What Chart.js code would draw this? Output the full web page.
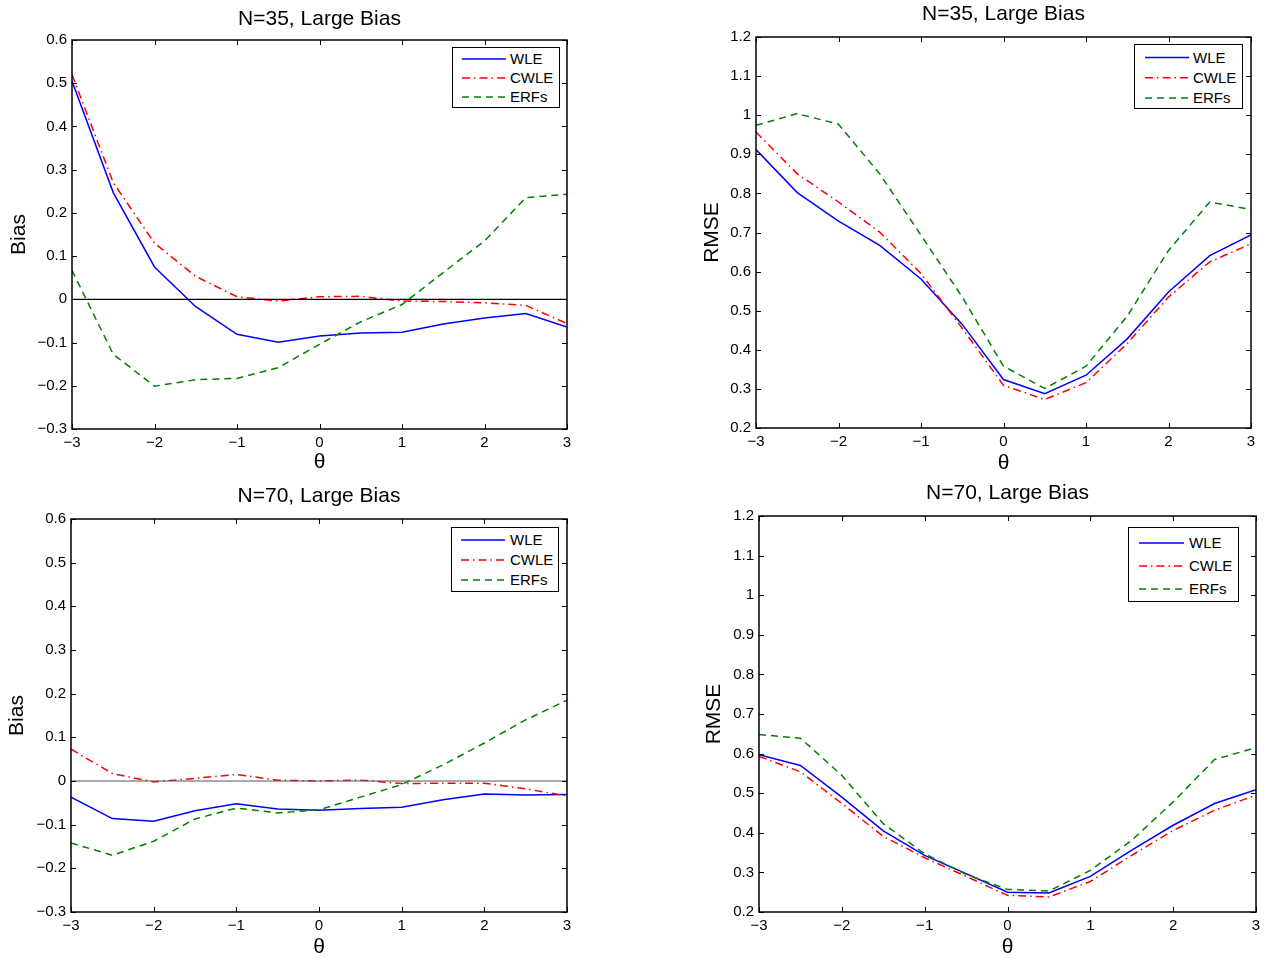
<!DOCTYPE html>
<html lang="en">
<head>
    <meta charset="UTF-8">
    <title>Bias and RMSE, Large Bias</title>
    <script src="https://cdn.jsdelivr.net/npm/chart.js"></script>
    <style>
        body { margin: 0; background: #fff; font-family: "Liberation Sans", Arial, sans-serif; }
        #page { position: relative; width: 1270px; height: 958px; overflow: hidden; }
        canvas { position: absolute; }
        .legend { position: absolute; background: #fff; border: 1.5px solid #000; box-sizing: border-box; }
        .legend svg { position: absolute; left: 0; top: 0; }
        .legend span { position: absolute; font-size: 15px; line-height: 15px; color: #000; white-space: nowrap; }
    </style>
</head>
<body>
<div id="page"></div>

<script>
    // theta grid and tick values
    const theta = [-3, -2.5, -2, -1.5, -1, -0.5, 0, 0.5, 1, 1.5, 2, 2.5, 3];
    const thetaTicks = [-3, -2, -1, 0, 1, 2, 3];
    const biasTicks = [-0.3, -0.2, -0.1, 0, 0.1, 0.2, 0.3, 0.4, 0.5, 0.6];
    const rmseTicks = [0.2, 0.3, 0.4, 0.5, 0.6, 0.7, 0.8, 0.9, 1, 1.1, 1.2];

    const seriesNames = ['WLE', 'CWLE', 'ERFs'];

    // N=35
    const biasWle35  = [0.505, 0.247, 0.075, -0.017, -0.081, -0.099, -0.085, -0.078, -0.076, -0.057, -0.043, -0.033, -0.064];
    const biasCwle35 = [0.52, 0.27, 0.13, 0.053, 0.006, -0.004, 0.006, 0.007, -0.004, -0.005, -0.008, -0.014, -0.056];
    const biasErf35  = [0.067, -0.127, -0.201, -0.186, -0.183, -0.158, -0.104, -0.052, -0.012, 0.062, 0.135, 0.235, 0.243];
    const rmseWle35  = [0.912, 0.802, 0.729, 0.667, 0.581, 0.465, 0.324, 0.288, 0.335, 0.428, 0.548, 0.641, 0.694];
    const rmseCwle35 = [0.957, 0.85, 0.778, 0.701, 0.595, 0.455, 0.309, 0.273, 0.316, 0.416, 0.535, 0.625, 0.671];
    const rmseErf35  = [0.974, 1.004, 0.977, 0.85, 0.693, 0.535, 0.358, 0.301, 0.358, 0.486, 0.654, 0.778, 0.759];

    // N=70
    const biasWle70  = [-0.037, -0.086, -0.092, -0.068, -0.052, -0.064, -0.067, -0.063, -0.060, -0.043, -0.030, -0.032, -0.031];
    const biasCwle70 = [0.073, 0.017, -0.002, 0.006, 0.015, 0.002, 0, 0.002, -0.006, -0.005, -0.005, -0.018, -0.034];
    const biasErf70  = [-0.142, -0.170, -0.138, -0.087, -0.062, -0.073, -0.066, -0.037, -0.008, 0.037, 0.087, 0.140, 0.185];
    const rmseWle70  = [0.597, 0.570, 0.490, 0.405, 0.343, 0.297, 0.250, 0.248, 0.290, 0.356, 0.419, 0.474, 0.509];
    const rmseCwle70 = [0.593, 0.554, 0.474, 0.391, 0.337, 0.290, 0.242, 0.238, 0.277, 0.343, 0.406, 0.457, 0.495];
    const rmseErf70  = [0.648, 0.639, 0.545, 0.423, 0.347, 0.295, 0.257, 0.253, 0.305, 0.381, 0.478, 0.585, 0.615];

    // line styles
    const seriesColors = ['#0000ff', '#ff0000', '#008000'];
    const seriesDash = [[], [8, 4, 1.5, 4], [7, 5]];

    const FONT = '"Liberation Sans", Arial, sans-serif';
    Chart.defaults.color = '#000';
    Chart.defaults.font.family = FONT;

    const fmt = v => String(Math.round(v * 10) / 10).replace('-', '\u2212');

    // MATLAB-like box with inward ticks on all four sides
    const frameTicks = {
        id: 'frameTicks',
        afterDatasetsDraw(chart) {
            const { ctx, chartArea: a, scales: { x, y } } = chart;
            ctx.save();
            ctx.strokeStyle = '#000';
            ctx.lineWidth = 1;
            ctx.beginPath();
            x.ticks.forEach(t => {
                const px = Math.round(x.getPixelForValue(t.value)) + 0.5;
                ctx.moveTo(px, a.bottom); ctx.lineTo(px, a.bottom - 5);
                ctx.moveTo(px, a.top); ctx.lineTo(px, a.top + 5);
            });
            y.ticks.forEach(t => {
                const py = Math.round(y.getPixelForValue(t.value)) + 0.5;
                ctx.moveTo(a.left, py); ctx.lineTo(a.left + 5, py);
                ctx.moveTo(a.right, py); ctx.lineTo(a.right - 5, py);
            });
            ctx.stroke();
            ctx.lineWidth = 1.5;
            ctx.strokeRect(a.left, a.top, a.right - a.left, a.bottom - a.top);
            ctx.restore();
        }
    };

    function makePanel(p) {
        const page = document.getElementById('page');
        const cv = document.createElement('canvas');
        cv.width = p.canvas[2];
        cv.height = p.canvas[3];
        cv.style.left = p.canvas[0] + 'px';
        cv.style.top = p.canvas[1] + 'px';
        page.appendChild(cv);

        const [cl, ct, cw, ch] = p.canvas;
        const [pl, pt, pr, pb] = p.plot;
        const tLH = 21;
        const tPadTop = p.titleY - ct - tLH / 2;
        const tPadBottom = pt - ct - tLH - tPadTop;

        const datasets = p.series.map((vals, i) => ({
            label: seriesNames[i],
            data: vals.map((v, k) => ({ x: theta[k], y: v })),
            borderColor: seriesColors[i],
            borderDash: seriesDash[i],
            borderWidth: 1.5,
            pointRadius: 0,
            tension: 0,
            order: 3 - i
        }));
        if (p.zeroLine) {
            datasets.push({
                label: 'zero',
                data: [{ x: theta[0], y: 0 }, { x: theta[theta.length - 1], y: 0 }],
                borderColor: p.zeroColor,
                borderWidth: 1.2,
                pointRadius: 0,
                order: 0
            });
        }

        new Chart(cv, {
            type: 'line',
            data: { datasets },
            options: {
                responsive: false,
                animation: false,
                layout: { padding: { left: 0, top: 0, bottom: 0, right: cl + cw - pr } },
                plugins: {
                    legend: { display: false },
                    tooltip: { enabled: false },
                    title: {
                        display: true,
                        text: p.title,
                        fullSize: false,
                        font: { size: 21, weight: 'normal', lineHeight: 1 },
                        padding: { top: tPadTop, bottom: tPadBottom }
                    }
                },
                scales: {
                    x: {
                        type: 'linear',
                        min: -3, max: 3,
                        afterBuildTicks: s => { s.ticks = thetaTicks.map(v => ({ value: v })); },
                        afterFit: s => { s.height = ct + ch - pb; },
                        grid: { display: false, drawTicks: false },
                        border: { display: false },
                        ticks: { callback: fmt, font: { size: 15 }, padding: 5, maxRotation: 0, autoSkip: false },
                        title: {
                            display: true, text: '\u03b8',
                            font: { size: 21, lineHeight: 1 },
                            padding: { top: 0, bottom: ct + ch - p.xTitleY - 10.5 }
                        }
                    },
                    y: {
                        type: 'linear',
                        min: p.yTicks[0], max: p.yTicks[p.yTicks.length - 1],
                        afterBuildTicks: s => { s.ticks = p.yTicks.map(v => ({ value: v })); },
                        afterFit: s => { s.width = pl - cl; },
                        grid: { display: false, drawTicks: false },
                        border: { display: false },
                        ticks: { callback: fmt, font: { size: 15 }, padding: 5, autoSkip: false },
                        title: {
                            display: true, text: p.yLabel,
                            font: { size: 21, lineHeight: 1 },
                            padding: { top: p.yTitleX - cl - 10.5, bottom: 0 }
                        }
                    }
                }
            },
            plugins: [frameTicks]
        });

        // legend box
        const lg = p.legend;
        const box = document.createElement('div');
        box.className = 'legend';
        box.style.left = lg.box[0] + 'px';
        box.style.top = lg.box[1] + 'px';
        box.style.width = lg.box[2] + 'px';
        box.style.height = lg.box[3] + 'px';
        const ns = 'http://www.w3.org/2000/svg';
        const svg = document.createElementNS(ns, 'svg');
        svg.setAttribute('width', lg.box[2]);
        svg.setAttribute('height', lg.box[3]);
        seriesNames.forEach((name, i) => {
            const yy = lg.row0 + i * lg.rowGap;
            const ln = document.createElementNS(ns, 'line');
            ln.setAttribute('x1', lg.line[0]);
            ln.setAttribute('x2', lg.line[1]);
            ln.setAttribute('y1', yy);
            ln.setAttribute('y2', yy);
            ln.setAttribute('stroke', seriesColors[i]);
            ln.setAttribute('stroke-width', 1.5);
            if (seriesDash[i].length) ln.setAttribute('stroke-dasharray', seriesDash[i].join(' '));
            svg.appendChild(ln);
            const sp = document.createElement('span');
            sp.textContent = name;
            sp.style.left = lg.textX + 'px';
            sp.style.top = (yy - 8) + 'px';
            box.appendChild(sp);
        });
        box.insertBefore(svg, box.firstChild);
        page.appendChild(box);
    }

    makePanel({
        canvas: [0, 0, 610, 478], plot: [72, 40, 567, 429],
        title: 'N=35, Large Bias', titleY: 19, yLabel: 'Bias', yTitleX: 19, xTitleY: 462,
        yTicks: biasTicks, series: [biasWle35, biasCwle35, biasErf35], zeroLine: true, zeroColor: '#000',
        legend: { box: [452, 47, 108, 61], row0: 11, rowGap: 19, line: [9, 53], textX: 57 }
    });
    makePanel({
        canvas: [680, 0, 590, 478], plot: [756, 37, 1251, 428],
        title: 'N=35, Large Bias', titleY: 14.5, yLabel: 'RMSE', yTitleX: 712, xTitleY: 463,
        yTicks: rmseTicks, series: [rmseWle35, rmseCwle35, rmseErf35], zeroLine: false,
        legend: { box: [1134, 44, 109, 65], row0: 12.5, rowGap: 20.3, line: [10, 54], textX: 58 }
    });
    makePanel({
        canvas: [0, 478, 610, 480], plot: [71, 519, 567, 912],
        title: 'N=70, Large Bias', titleY: 496, yLabel: 'Bias', yTitleX: 17, xTitleY: 947,
        yTicks: biasTicks, series: [biasWle70, biasCwle70, biasErf70], zeroLine: true, zeroColor: '#555',
        legend: { box: [451, 527, 108, 65], row0: 12, rowGap: 20, line: [9, 53], textX: 58 }
    });
    makePanel({
        canvas: [680, 478, 590, 480], plot: [759, 516, 1256, 912],
        title: 'N=70, Large Bias', titleY: 493, yLabel: 'RMSE', yTitleX: 714, xTitleY: 947,
        yTicks: rmseTicks, series: [rmseWle70, rmseCwle70, rmseErf70], zeroLine: false,
        legend: { box: [1128, 527, 111, 75], row0: 15, rowGap: 23, line: [10, 55], textX: 60 }
    });
</script>
</body>
</html>
